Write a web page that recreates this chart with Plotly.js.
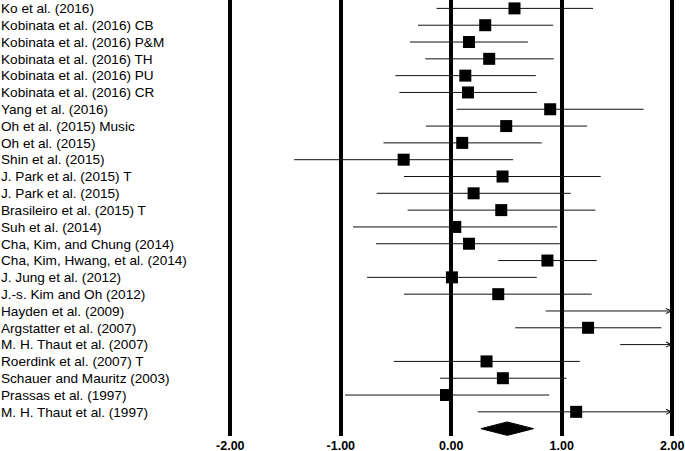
<!DOCTYPE html>
<html>
<head>
<meta charset="utf-8">
<script src="https://cdn.plot.ly/plotly-3.0.1.min.js"></script>
<style>html,body{margin:0;padding:0;background:#fff;}#chart{width:685px;height:451px;}</style>
</head>
<body>
<div id="chart"></div>
<script>
// ---- data ----
var studies = [
  "Ko et al. (2016)",
  "Kobinata et al. (2016) CB",
  "Kobinata et al. (2016) P&M",
  "Kobinata et al. (2016) TH",
  "Kobinata et al. (2016) PU",
  "Kobinata et al. (2016) CR",
  "Yang et al. (2016)",
  "Oh et al. (2015) Music",
  "Oh et al. (2015)",
  "Shin et al. (2015)",
  "J. Park et al. (2015) T",
  "J. Park et al. (2015)",
  "Brasileiro et al. (2015) T",
  "Suh et al. (2014)",
  "Cha, Kim, and Chung (2014)",
  "Cha, Kim, Hwang, et al. (2014)",
  "J. Jung et al. (2012)",
  "J.-s. Kim and Oh (2012)",
  "Hayden et al. (2009)",
  "Argstatter et al. (2007)",
  "M. H. Thaut et al. (2007)",
  "Roerdink et al. (2007) T",
  "Schauer and Mauritz (2003)",
  "Prassas et al. (1997)",
  "M. H. Thaut et al. (1997)"
];
// effect size estimates (null = off the plotted scale)
var effect = [0.572, 0.307, 0.160, 0.343, 0.127, 0.151, 0.895, 0.497, 0.099, -0.431,
              0.464, 0.202, 0.452, 0.036, 0.160, 0.870, 0.006, 0.425, null, 1.238,
              null, 0.319, 0.467, -0.048, 1.130];
var lower  = [-0.133, -0.301, -0.373, -0.235, -0.506, -0.470, 0.048, -0.229, -0.614, -1.422,
              -0.428, -0.675, -0.395, -0.889, -0.681, 0.425, -0.762, -0.428, 0.840, 0.578,
              1.515, -0.521, -0.102, -0.961, 0.226];
// upper limits (null = beyond the scale, drawn as an arrow)
var upper  = [1.283, 0.922, 0.693, 0.928, 0.765, 0.774, 1.741, 1.229, 0.819, 0.560,
              1.352, 1.081, 1.304, 0.958, 0.982, 1.316, 0.774, 1.271, null, 1.901,
              null, 1.163, 1.042, 0.886, null];
var overall = {est: 0.506, lo: 0.268, hi: 0.744};
var xTicks = [-2, -1, 0, 1, 2];
var xTickText = ["-2.00", "-1.00", "0.00", "1.00", "2.00"];

// ---- build ----
var rows = studies.map(function(_, i){ return i; });
var nRows = studies.length;
var xMax = xTicks[xTicks.length - 1];

var ciX = [], ciY = [];
var annotations = [];
for (var i = 0; i < nRows; i++) {
  if (upper[i] !== null) {
    ciX.push(lower[i], upper[i], null);
    ciY.push(i, i, null);
  } else {
    annotations.push({
      x: xMax, y: i, xref: 'x', yref: 'y',
      ax: lower[i], ay: i, axref: 'x', ayref: 'y',
      text: '', showarrow: true, arrowhead: 5, arrowsize: 1,
      arrowwidth: 1, arrowcolor: '#111', standoff: 0
    });
  }
}

var ciTrace = {
  x: ciX, y: ciY, type: 'scatter', mode: 'lines',
  line: {color: '#111', width: 1}, hoverinfo: 'skip', showlegend: false
};
var ptTrace = {
  x: effect, y: rows, type: 'scatter', mode: 'markers',
  marker: {symbol: 'square', size: 12, color: '#000', line: {width: 0}},
  showlegend: false, cliponaxis: true
};
var dh = 0.4;
var dRow = nRows;
var diamond = {
  x: [overall.lo, overall.est, overall.hi, overall.est, overall.lo],
  y: [dRow, dRow - dh, dRow, dRow + dh, dRow],
  type: 'scatter', mode: 'lines', fill: 'toself', fillcolor: '#000',
  line: {color: '#000', width: 1}, showlegend: false, hoverinfo: 'skip'
};

var rowPx = 16.81;
var plotH = 436;
var yTop = -8.4 / rowPx;
var yBot = yTop + plotH / rowPx;

var layout = {
  width: 685, height: 451,
  margin: {l: 0, r: 0, t: 0, b: 451 - plotH, pad: 0},
  paper_bgcolor: '#fff', plot_bgcolor: '#fff',
  showlegend: false,
  xaxis: {
    range: [-4.084, 2.115], showgrid: true, gridcolor: '#000', gridwidth: 4,
    tickvals: xTicks, ticktext: xTickText, zeroline: false, showline: false,
    ticks: '', tickfont: {family: 'Liberation Sans, Arial, sans-serif', size: 12.5, color: '#000', weight: 'bold'},
    automargin: false, fixedrange: true
  },
  yaxis: {
    range: [yBot, yTop], showgrid: false, zeroline: false, showline: false,
    tickvals: rows, ticktext: studies, ticks: '', ticklabelposition: 'inside',
    ticklabelstandoff: -2,
    tickfont: {family: 'Liberation Sans, Arial, sans-serif', size: 13.6, color: '#000'},
    automargin: false, fixedrange: true
  },
  annotations: annotations
};

Plotly.newPlot('chart', [ciTrace, diamond, ptTrace], layout, {displayModeBar: false, staticPlot: true});
</script>
</body>
</html>
